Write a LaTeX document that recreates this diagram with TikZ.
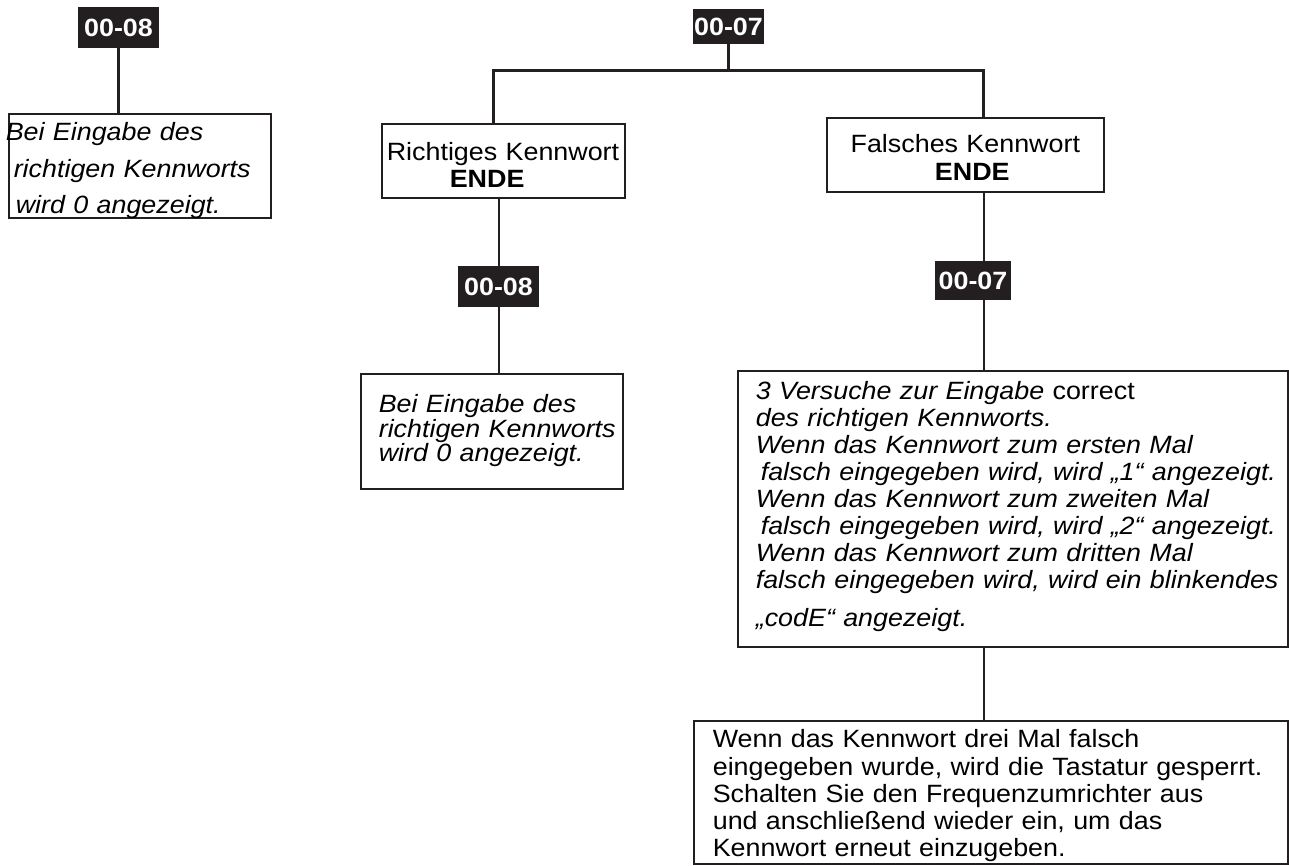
\documentclass[tikz,border=0pt]{standalone}
\usepackage{fontspec}
\setmainfont{Liberation Sans}[FakeStretch=1.075]
\definecolor{ink}{HTML}{231F20}
\lineskiplimit=-50pt

\begin{document}
\begin{tikzpicture}[x=1pt, y=-1pt,
      every node/.append style={font=\fontsize{25}{27}\selectfont},
      param/.style={fill=ink, text=white, inner sep=0pt, font=\fontsize{25}{27}\selectfont\bfseries},
      note/.style={draw=ink, line width=1.6pt, inner sep=0pt, anchor=north west, align=left},
      bus/.style={draw=ink, line width=3pt},
      wire/.style={draw=ink, line width=2pt}]
    \useasboundingbox (0,0) rectangle (1289,866);
    \node[param, minimum width=81, minimum height=41] (p08top) at (118.5,27.5) {00-08};
    \node[param, minimum width=71, minimum height=35] (p07top) at (728.5,26.5) {00-07};
    \node[param, minimum width=81, minimum height=41] (p08mid) at (498.5,286.5) {00-08};
    \node[param, minimum width=76, minimum height=39] (p07mid) at (973,280.5) {00-07};
    \node[note, text width=262, text height=27, text depth=77, font=\fontsize{25}{36.5}\selectfont\itshape] (hintL) at (8,113)
      {\leftskip=-3pt Bei Eingabe des\\\hspace*{8pt}richtigen Kennworts\\\hspace*{10pt}wird 0 angezeigt.\par};
    \node[note, text width=243, text height=37, text depth=37] (right) at (381,123)
      {\leftskip=5pt Richtiges Kennwort\\\hspace*{63pt}\textbf{ENDE}\par};
    \node[note, align=center, text width=277, text height=35, text depth=39, font=\fontsize{25}{28}\selectfont] (wrong) at (826,117)
      {Falsches Kennwort\\\hspace*{14pt}\textbf{ENDE}};
    \node[note, text width=262, text height=39, text depth=76, font=\fontsize{25}{22.5}\selectfont\itshape] (hintM) at (360,373)
      {\leftskip=18pt Bei Eingabe des\\richtigen Kennworts\\wird 0 angezeigt.\par};
    \node[note, text width=550, text height=29, text depth=247, font=\fontsize{25}{27}\selectfont\itshape] (tries) at (737,370)
      {\leftskip=18pt 3 Versuche zur Eingabe {\upshape correct}\\
       des richtigen Kennworts.\\
       Wenn das Kennwort zum ersten Mal\\
       \hspace*{5pt}falsch eingegeben wird, wird „1“ angezeigt.\\
       Wenn das Kennwort zum zweiten Mal\\
       \hspace*{5pt}falsch eingegeben wird, wird „2“ angezeigt.\\
       Wenn das Kennwort zum dritten Mal\\
       falsch eingegeben wird, wird ein blinkendes\\[11pt]
       „codE“ angezeigt.\par};
    \node[note, text width=594, text height=27, text depth=116, font=\fontsize{25}{27.25}\selectfont] (lock) at (693,720)
      {\leftskip=19pt Wenn das Kennwort drei Mal falsch\\
       eingegeben wurde, wird die Tastatur gesperrt.\\
       Schalten Sie den Frequenzumrichter aus\\
       und anschließend wieder ein, um das\\
       Kennwort erneut einzugeben.\par};
    \coordinate (busL) at (493,71);
    \coordinate (busR) at (983,71);
    \coordinate (drop) at (984,0);
    \draw[bus] (p08top.south) -- (hintL.north -| p08top.south);
    \draw[bus] (p07top.south) -- (p07top.south |- busL);
    \draw[bus] (right.north -| busL) -- (busL) -- (busR) -- (wrong.north -| busR);
    \draw[wire] (right.south -| p08mid.north) -- (p08mid.north);
    \draw[wire] (p08mid.south) -- (hintM.north -| p08mid.south);
    \draw[wire] (wrong.south -| drop) -- (p07mid.north -| drop);
    \draw[wire] (p07mid.south -| drop) -- (tries.north -| drop);
    \draw[wire] (tries.south -| drop) -- (lock.north -| drop);
\end{tikzpicture}
\end{document}
